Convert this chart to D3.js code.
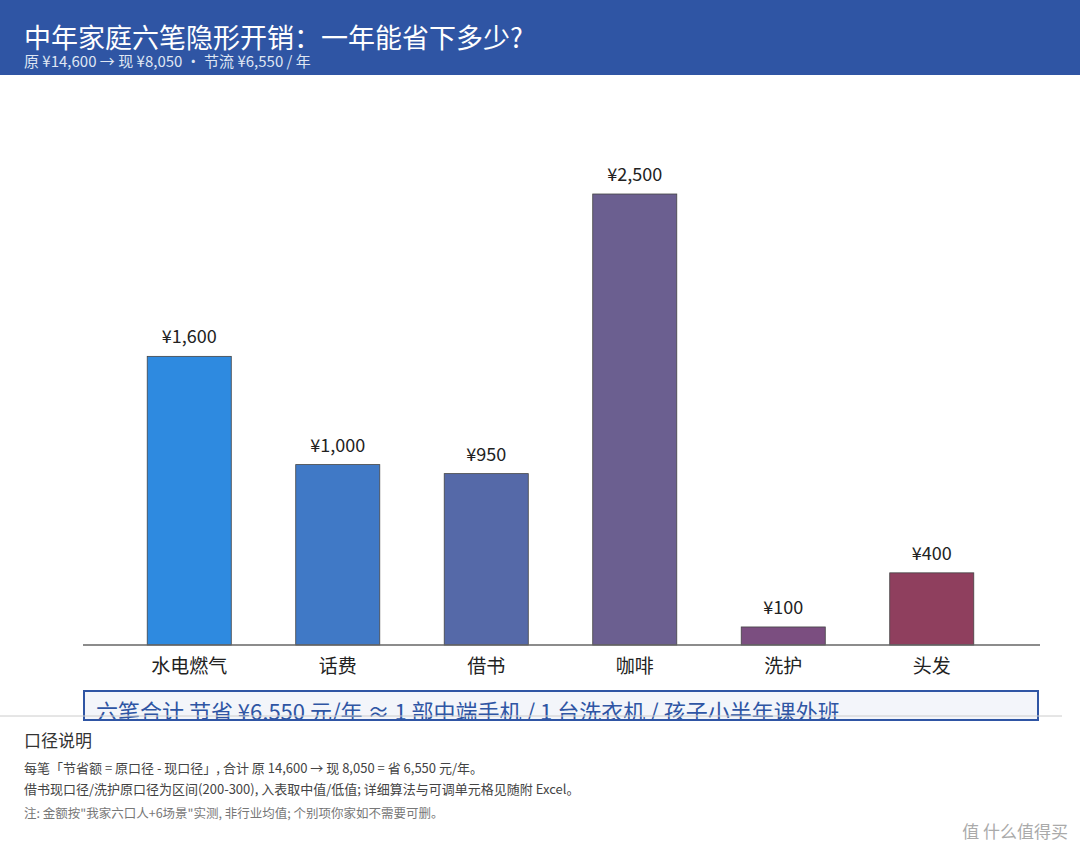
<!DOCTYPE html>
<html><head><meta charset="utf-8">
<script src="https://cdn.jsdelivr.net/npm/d3@7"></script>
<style>body{margin:0;background:#fff;font-family:"Noto Sans CJK SC","Noto Sans",sans-serif;}</style>
</head><body><div id="chart"></div>
<script>
// data
let categories = ['水电燃气', '话费', '借书', '咖啡', '洗护', '头发'];
let savings = [1600, 1000, 950, 2500, 100, 400];
let colors = ['#2e8ae0', '#4079c6', '#5569a8', '#6b5f90', '#7b4e80', '#8f3f5e'];
let notes = [
  '每笔「节省额 = 原口径 - 现口径」, 合计 原 14,600 → 现 8,050 = 省 6,550 元/年。',
  '借书现口径/洗护原口径为区间(200-300), 入表取中值/低值; 详细算法与可调单元格见随附 Excel。'
];

let svg_width = 1080, svg_height = 852;
let base_y = 645;

let svg = d3.select('#chart').append('svg')
  .attr('width', svg_width).attr('height', svg_height);

// header
svg.append('rect').attr('width', svg_width).attr('height', 75).attr('fill', '#2f55a4');
svg.append('text').attr('x', 24).attr('y', 48).attr('fill', '#fff')
  .attr('font-size', 27).text('中年家庭六笔隐形开销：一年能省下多少?');
svg.append('text').attr('x', 24).attr('y', 67).attr('fill', '#dfe6f3')
  .attr('font-size', 15).text('原 ¥14,600 → 现 ¥8,050 · 节流 ¥6,550 / 年');

// scales
let x_scale = d3.scaleBand().domain(categories).range([115, 1006]).paddingInner(0.434).paddingOuter(0.217);
let y_scale = d3.scaleLinear().domain([0, 2500]).range([base_y, 194]);

svg.selectAll('rect.bar').data(savings).enter().append('rect')
  .attr('class', 'bar')
  .attr('x', (d, i) => x_scale(categories[i]))
  .attr('y', d => y_scale(d))
  .attr('width', x_scale.bandwidth())
  .attr('height', d => base_y - y_scale(d))
  .attr('fill', (d, i) => colors[i])
  .attr('stroke', '#444').attr('stroke-width', 0.8);

svg.selectAll('text.val').data(savings).enter().append('text')
  .attr('class', 'val')
  .attr('x', (d, i) => x_scale(categories[i]) + x_scale.bandwidth() / 2)
  .attr('y', d => y_scale(d) - 13)
  .attr('text-anchor', 'middle').attr('font-size', 18).attr('fill', '#222')
  .text(d => '¥' + d3.format(',')(d));

// axis
let axis = svg.append('g').attr('transform', `translate(0,${base_y})`)
  .call(d3.axisBottom(x_scale).tickSize(0).tickPadding(15));
axis.select('.domain').remove();
axis.selectAll('text').attr('font-size', 19).attr('fill', '#222')
  .attr('font-family', '"Noto Sans CJK SC",sans-serif');
svg.append('line').attr('x1', 83).attr('x2', 1040).attr('y1', base_y).attr('y2', base_y)
  .attr('stroke', '#666').attr('stroke-width', 1.5);

// summary box
svg.append('clipPath').attr('id', 'boxclip').append('rect')
  .attr('x', 84).attr('y', 691).attr('width', 954).attr('height', 30);
svg.append('rect').attr('x', 84).attr('y', 691).attr('width', 954).attr('height', 29)
  .attr('fill', '#f3f5fa').attr('stroke', '#2f55a4').attr('stroke-width', 2);
svg.append('text').attr('clip-path', 'url(#boxclip)').attr('x', 96).attr('y', 720)
  .attr('font-size', 22).attr('fill', '#2f55a4')
  .text('六笔合计 节省 ¥6,550 元/年  ≈  1 部中端手机 / 1 台洗衣机 / 孩子小半年课外班');
svg.append('line').attr('x1', 0).attr('x2', 1062).attr('y1', 716).attr('y2', 716)
  .attr('stroke', '#ccc').attr('stroke-width', 1);

// notes
svg.append('text').attr('x', 24).attr('y', 747).attr('font-size', 17).attr('fill', '#333').text('口径说明');
svg.selectAll('text.note').data(notes).enter().append('text')
  .attr('class', 'note').attr('x', 24).attr('y', (d, i) => 773 + i * 21)
  .attr('font-size', 13).attr('fill', '#444').text(d => d);
svg.append('text').attr('x', 24).attr('y', 818).attr('font-size', 12.5).attr('fill', '#777')
  .text('注: 金额按"我家六口人+6场景"实测, 非行业均值; 个别项你家如不需要可删。');
svg.append('text').attr('x', 1068).attr('y', 838).attr('text-anchor', 'end')
  .attr('font-size', 17).attr('fill', '#aaa').text('值 什么值得买');
</script></body></html>
